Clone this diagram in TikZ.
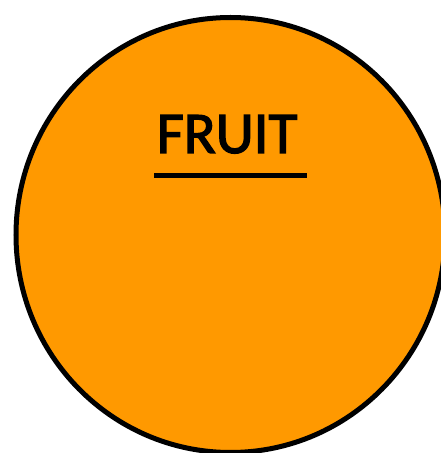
\documentclass[tikz,border=0pt]{standalone}
\usepackage{fontspec}
\setmainfont{Carlito}
\newfontfamily\titlefont[FakeBold=2.2]{Carlito}
\usepackage{xcolor}
\usetikzlibrary{positioning, shapes.geometric}
\definecolor{fruitorange}{HTML}{FF9900}

\begin{document}
\begin{tikzpicture}[
    x=1pt, y=1pt,
    blob/.style={draw, line width=5pt, fill=fruitorange, ellipse, minimum width=429pt, minimum height=435pt, inner sep=0pt},
    title/.style={font=\fontsize{59}{59}\titlefont, anchor=base, inner sep=0pt},
    rule/.style={line width=5pt}
]
\useasboundingbox (0,0) rectangle (441,453);
\node[blob] (fruit) at (230.5,218) {};
\node[title] (label) at (227,300) {FRUIT};
\coordinate (ruleL) at (154,277);
\coordinate (ruleR) at (307,277);
\draw[rule] (ruleL) -- (ruleR);
\end{tikzpicture}
\end{document}
